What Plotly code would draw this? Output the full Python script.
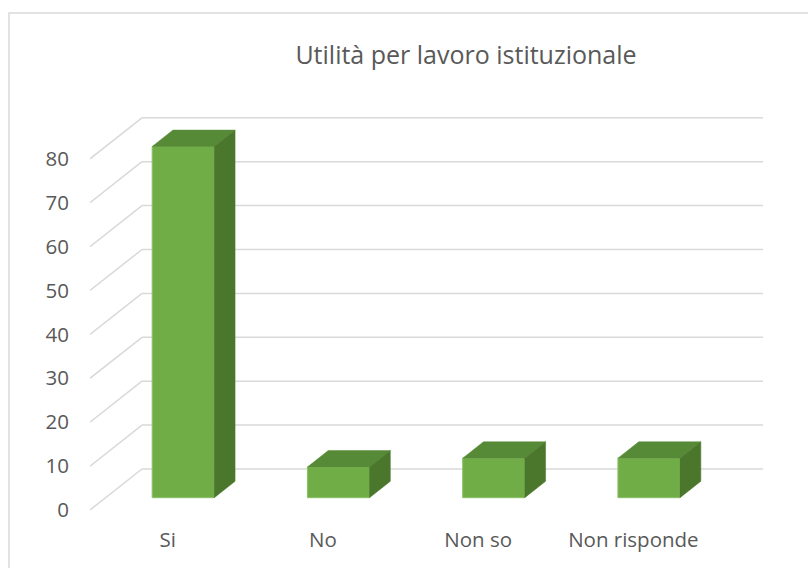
import plotly.graph_objects as go

# ---- data ----
categories = ["Si", "No", "Non so", "Non risponde"]
values = [80, 7, 9, 9]
y_ticks = [0, 10, 20, 30, 40, 50, 60, 70, 80]
title_text = "Utilità per lavoro istituzionale"

# ---- styling / geometry constants ----
W, H = 808, 568
ML, MR, MT, MB = 90, 45, 100, 48
FRONT_COLOR = "#70AD47"
TOP_COLOR = "#578A36"
SIDE_COLOR = "#4A772B"
GRID_COLOR = "#D9D9D9"
TEXT_COLOR = "#595959"
FONT = "Open Sans"

PX_PER_UNIT = 4.39          # pixels per value unit (vertical)
PX_PER_CAT = 155.25         # pixels per category (horizontal)
DEPTH_DX = 52 / PX_PER_CAT  # full floor depth, x component (data units)
DEPTH_DY = 41 / PX_PER_UNIT # full floor depth, y component (data units)
BAR_W = 0.4                 # bar width in category units
BAR_D0, BAR_D1 = 0.3, 0.7   # bar depth extent (fraction of floor depth)

plot_h = H - MT - MB
zero_px = 510 - MT          # pixel row of value 0 inside plot area
y_min = -(plot_h - zero_px) / PX_PER_UNIT
y_max = zero_px / PX_PER_UNIT
x_min = -0.5
x_max = len(categories) - 0.5 + DEPTH_DX

fig = go.Figure()

# back-wall gridlines and floor/side diagonals (drawn below bars)
shapes = []
for t in y_ticks:
    shapes.append(dict(type="line", xref="x", yref="y", layer="below",
                       x0=x_min, y0=t, x1=x_min + DEPTH_DX, y1=t + DEPTH_DY,
                       line=dict(color=GRID_COLOR, width=1.5)))
    shapes.append(dict(type="line", xref="x", yref="y", layer="below",
                       x0=x_min + DEPTH_DX, y0=t + DEPTH_DY, x1=x_max, y1=t + DEPTH_DY,
                       line=dict(color=GRID_COLOR, width=1.5)))
# chart border
shapes.append(dict(type="rect", xref="paper", yref="paper", layer="below",
                   x0=(9 - ML) / (W - ML - MR), y0=-0.3,
                   x1=1.3, y1=(plot_h + MT - 13) / plot_h,
                   line=dict(color=GRID_COLOR, width=1.5), fillcolor="rgba(0,0,0,0)"))

# front faces
base = BAR_D0 * DEPTH_DY
xs = [i + BAR_D0 * DEPTH_DX for i in range(len(categories))]
fig.add_trace(go.Bar(x=xs, y=values, base=base, width=BAR_W,
                     marker=dict(color=FRONT_COLOR, line=dict(color="#8CC168", width=1)),
                     hoverinfo="skip", showlegend=False))

ddx = (BAR_D1 - BAR_D0) * DEPTH_DX
ddy = (BAR_D1 - BAR_D0) * DEPTH_DY
for xc, v in zip(xs, values):
    xl, xr = xc - BAR_W / 2, xc + BAR_W / 2
    top = base + v
    # top face
    fig.add_trace(go.Scatter(
        x=[xl, xr, xr + ddx, xl + ddx, xl],
        y=[top, top, top + ddy, top + ddy, top],
        fill="toself", fillcolor=TOP_COLOR, mode="lines",
        line=dict(color=TOP_COLOR, width=0.5), hoverinfo="skip", showlegend=False))
    # side face
    fig.add_trace(go.Scatter(
        x=[xr, xr, xr + ddx, xr + ddx, xr],
        y=[base, top, top + ddy, base + ddy, base],
        fill="toself", fillcolor=SIDE_COLOR, mode="lines",
        line=dict(color=SIDE_COLOR, width=0.5), hoverinfo="skip", showlegend=False))

fig.update_layout(
    width=W, height=H,
    margin=dict(l=ML, r=MR, t=MT, b=MB),
    paper_bgcolor="white", plot_bgcolor="white",
    shapes=shapes,
    title=dict(text=title_text, x=466 / W, xanchor="center",
               y=1 - 55 / H, yanchor="middle", yref="container",
               font=dict(family=FONT, size=25, color=TEXT_COLOR)),
    xaxis=dict(range=[x_min, x_max], tickmode="array",
               tickvals=list(range(len(categories))), ticktext=categories,
               showgrid=False, zeroline=False, showline=False, ticks="",
               ticklabelstandoff=5,
               tickfont=dict(family=FONT, size=20.5, color=TEXT_COLOR)),
    yaxis=dict(range=[y_min, y_max], tickmode="array", tickvals=y_ticks,
               showgrid=False, zeroline=False, showline=False, ticks="",
               ticklabelstandoff=20,
               tickfont=dict(family=FONT, size=20.5, color=TEXT_COLOR)),
)

fig.write_html("out.html", config={"displayModeBar": False},
               post_script="document.body.style.margin='0';document.body.style.overflow='hidden';")
